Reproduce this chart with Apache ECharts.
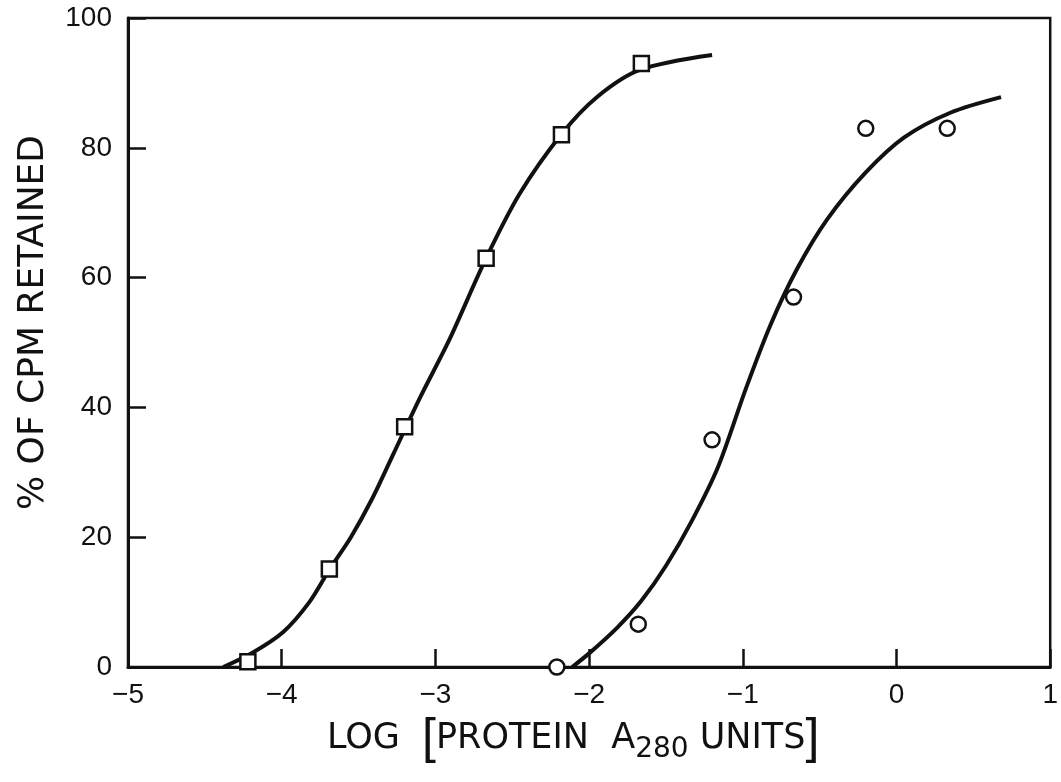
<!DOCTYPE html>
<html>
	<head>
		<meta charset="utf-8" />
		<title>CPM retained</title>
		<style>
			html, body { margin: 0; padding: 0; background: #fff; }
			#chartmain { width: 1061px; height: 782px; }
		</style>
	</head>
	<body>
		<div id="chartmain"></div>
		<script type="text/javascript" src="https://cdn.jsdelivr.net/npm/echarts@6/dist/echarts.min.js"></script>
		<script type="text/javascript">
			// measured points (squares / circles)
			var squareX = [-4.22, -3.69, -3.20, -2.67, -2.18, -1.66];
			var squareY = [0.8, 15.1, 37, 63, 82, 93];
			var circleX = [-2.21, -1.68, -1.20, -0.67, -0.20, 0.33];
			var circleY = [0, 6.6, 35, 57, 83, 83];

			// hand drawn curves
			var curveAX = [-4.38, -4.19, -3.99, -3.82, -3.69, -3.55, -3.41, -3.27, -3.10, -2.91, -2.67, -2.45, -2.18, -1.95, -1.67, -1.20];
			var curveAY = [0, 2.2, 5.4, 10, 15, 20, 26, 33, 41.5, 50.4, 63, 73, 82.1, 87.8, 92, 94.3];
			var curveBX = [-2.11, -2.0, -1.82, -1.66, -1.50, -1.33, -1.16, -0.98, -0.82, -0.65, -0.45, -0.20, 0.05, 0.35, 0.68];
			var curveBY = [0, 2.1, 6, 10.2, 15.6, 22.6, 30.9, 42.9, 52.7, 61.2, 69, 76.2, 81.6, 85.4, 87.8];

			var xTicks = [-5, -4, -3, -2, -1, 0, 1];
			var yTicks = [0, 20, 40, 60, 80, 100];

			var zip = function(xs, ys) {
				var out = [];
				for (var i = 0; i < xs.length; i++) {
					out.push([xs[i], ys[i]]);
				}
				return out;
			};

			var ink = '#111';
			var font = 'Liberation Sans';
			var titleFont = 'DejaVu Sans';

			var option = {
				backgroundColor: '#fff',
				animation: false,
				grid: {
					left: 128, right: 9, top: 18, bottom: 115,
					show: true,
					borderColor: ink,
					borderWidth: 2.5
				},
				xAxis: {
					type: 'value',
					min: xTicks[0], max: xTicks[xTicks.length - 1], interval: 1,
					splitLine: { show: false },
					axisLine: { onZero: false, lineStyle: { color: ink, width: 3 } },
					axisTick: { inside: true, length: 18, lineStyle: { color: ink, width: 2.5 } },
					axisLabel: {
						color: ink, fontFamily: font, fontSize: 28, margin: 14,
						formatter: function(v) { return String(v).replace('-', '\u2212'); }
					},
					name: 'LOG  {b|[}PROTEIN  A{s|280} UNITS{b|]}',
					nameLocation: 'middle',
					nameGap: 46,
					nameTextStyle: {
						color: ink, fontFamily: titleFont, fontSize: 35,
						padding: [0, 32, 0, 0],
						rich: {
							b: { fontSize: 50, fontFamily: font, color: ink },
							s: { fontSize: 28, fontFamily: titleFont, color: ink, verticalAlign: 'bottom', padding: [14, 0, 0, 0] }
						}
					}
				},
				yAxis: {
					type: 'value',
					min: yTicks[0], max: yTicks[yTicks.length - 1], interval: 20,
					splitLine: { show: false },
					axisLine: { onZero: false, lineStyle: { color: ink, width: 3 } },
					axisTick: { inside: true, length: 18, lineStyle: { color: ink, width: 2.5 } },
					axisLabel: { color: ink, fontFamily: font, fontSize: 28, margin: 16 },
					name: '% OF CPM RETAINED',
					nameLocation: 'middle',
					nameGap: 76,
					nameTextStyle: {
						color: ink, fontFamily: titleFont, fontSize: 36,
						padding: [0, 0, 0, 40]
					}
				},
				series: [
					{
						name: 'curveA', type: 'line', data: zip(curveAX, curveAY),
						smooth: 0.3, showSymbol: false, symbol: 'none',
						lineStyle: { color: ink, width: 4 }, z: 2
					},
					{
						name: 'curveB', type: 'line', data: zip(curveBX, curveBY),
						smooth: 0.3, showSymbol: false, symbol: 'none',
						lineStyle: { color: ink, width: 4 }, z: 2
					},
					{
						name: 'squares', type: 'scatter', data: zip(squareX, squareY),
						symbol: 'rect', symbolSize: 15,
						itemStyle: { color: '#fff', borderColor: ink, borderWidth: 2.5, opacity: 1 }, z: 3
					},
					{
						name: 'circles', type: 'scatter', data: zip(circleX, circleY),
						symbol: 'circle', symbolSize: 15,
						itemStyle: { color: '#fff', borderColor: ink, borderWidth: 2.5, opacity: 1 }, z: 3
					}
				]
			};

			var myChart = echarts.init(document.getElementById('chartmain'));
			myChart.setOption(option);
		</script>
	</body>
</html>
